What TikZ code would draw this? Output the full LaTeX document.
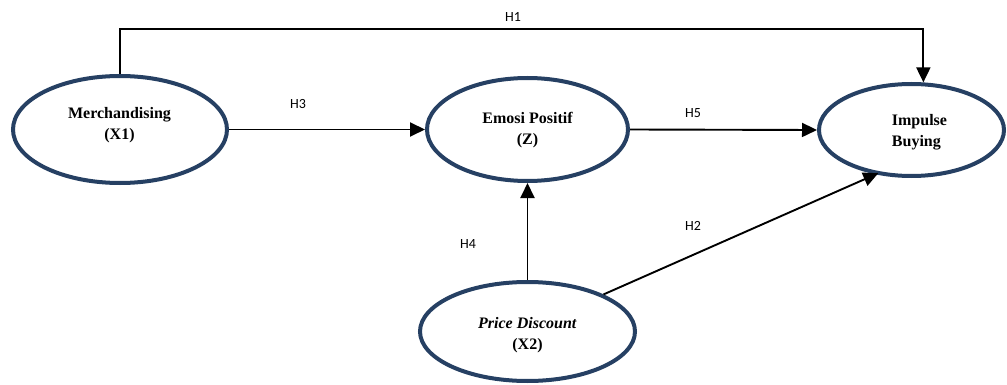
\documentclass[tikz,border=0pt]{standalone}
\usepackage{fontspec}
\setmainfont{Liberation Serif}
\newfontfamily\labfont{Carlito}
\usetikzlibrary{arrows.meta,shapes.geometric}
\definecolor{navy}{RGB}{38,64,99}
\tikzset{
  var/.style={draw=navy, line width=4pt, ellipse, inner sep=0pt},
  vtext/.style={align=center, font=\fontsize{16}{21}\selectfont\bfseries, inner sep=0pt},
  arr/.style={line width=1.9pt, -{Triangle[length=15pt,width=14pt]}},
  hlab/.style={font=\labfont\fontsize{14}{16}\selectfont, inner sep=0pt}
}
\begin{document}
\begin{tikzpicture}[x=1pt,y=-1pt]
\useasboundingbox (0,0) rectangle (1007,385);
% ellipses
\node[var, minimum width=214pt, minimum height=107pt] (m) at (120,129.5) {};
\node[var, minimum width=201pt, minimum height=103pt] (e) at (527.5,129.5) {};
\node[var, minimum width=185pt, minimum height=92pt] (i) at (911.5,130) {};
\node[var, minimum width=215pt, minimum height=99pt] (p) at (527.5,331.5) {};
% texts
\node[vtext] (mt) at (119.5,125) {Merchandising\\(X1)};
\node[vtext] (et) at (527.5,130.5) {Emosi Positif\\(Z)};
\node[vtext, align=left] (it) at (919.5,132) {Impulse\\Buying};
\node[vtext] (pt) at (527.5,335) {\textit{Price Discount}\\(X2)};
% connectors
\coordinate (toplevel) at (0,29);
\draw[arr] (m.north) -- (m.north |- toplevel) -- (i.76 |- toplevel) -- (i.76);
\draw[arr] (m.east) -- (e.west);
\draw[arr] (e.east) -- (i.west);
\draw[arr] (p.north) -- (e.south);
\draw[arr, shorten >=-3pt] (p.26) -- (i.231);
% labels
\node[hlab] (h1) at (513,17) {H1};
\node[hlab] (h3) at (298,104) {H3};
\node[hlab] (h5) at (693,113) {H5};
\node[hlab] (h4) at (468,244) {H4};
\node[hlab] (h2) at (693,226) {H2};
\end{tikzpicture}
\end{document}
